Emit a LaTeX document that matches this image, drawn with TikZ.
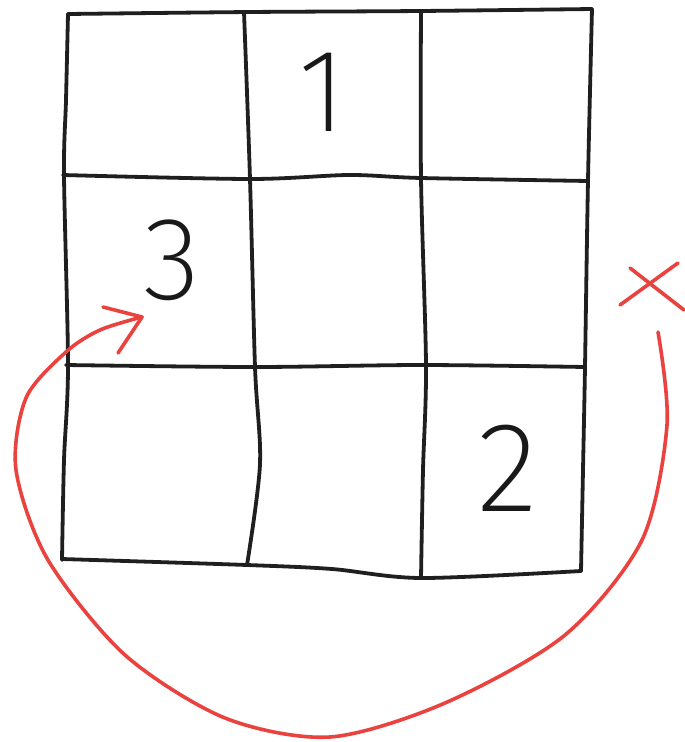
\documentclass[tikz,border=0pt]{standalone}
\usepackage{fontspec}
\newfontfamily\handfont{Fira Sans ExtraLight}
\definecolor{pencilred}{RGB}{234,66,62}
\begin{document}
\begin{tikzpicture}[x=1pt,y=-1pt,
  pencil/.style={line width=3.8pt, draw=black!88, line cap=round, line join=round},
  redpencil/.style={line width=3.6pt, draw=pencilred, line cap=round, line join=round},
  digit/.style={font=\handfont\fontsize{118}{118}\selectfont, text=black!90, inner sep=0pt}]
\useasboundingbox (0,0) rectangle (685,742);
% grid outline and lines
\draw[pencil] plot[smooth] coordinates {(68,14) (250,12) (420,11) (592,9)};
\draw[pencil] plot[smooth] coordinates {(68,14) (66,100) (64,175) (68,365) (64,460) (62,560)};
\draw[pencil] plot[smooth] coordinates {(592,9) (588,180) (585,367) (583,470) (581,571)};
\draw[pencil] plot[smooth] coordinates {(62,559) (247,565) (332,569) (421,578) (581,571)};
\draw[pencil] plot[smooth] coordinates {(63,175) (250,179) (349,175) (421,178) (588,181)};
\draw[pencil] plot[smooth] coordinates {(66,365) (255,367) (421,365) (585,367)};
\draw[pencil] plot[smooth] coordinates {(244,12) (250,179) (255,367) (260,464) (247,565)};
\draw[pencil] plot[smooth] coordinates {(421,11) (421,178) (426,365) (423,470) (421,578)};
% digits
\node[digit] (one) at (322,92) {1};
\node[digit] (three) at (172,260) {3};
\node[digit, font=\handfont\fontsize{128}{128}\selectfont] (two) at (508,468) {2};
% red cross
\coordinate (xa) at (630,268);
\coordinate (xb) at (684,310);
\coordinate (xc) at (620,305);
\coordinate (xd) at (678,263);
\draw[redpencil] (xa) -- (xb);
\draw[redpencil] (xc) -- (xd);
% red arc with arrow
\coordinate (arcstart) at (658,332);
\coordinate (tip) at (142,317);
\coordinate (headup) at (103,307);
\coordinate (headdown) at (118,353);
\draw[redpencil] plot[smooth] coordinates {(arcstart) (667,425) (642,540) (565,635) (445,703) (330,737) (225,718) (125,655) (48,560) (16,470) (26,398) (66,352) (100,330) (tip)};
\draw[redpencil] (headup) -- (tip) -- (headdown);
\end{tikzpicture}
\end{document}
